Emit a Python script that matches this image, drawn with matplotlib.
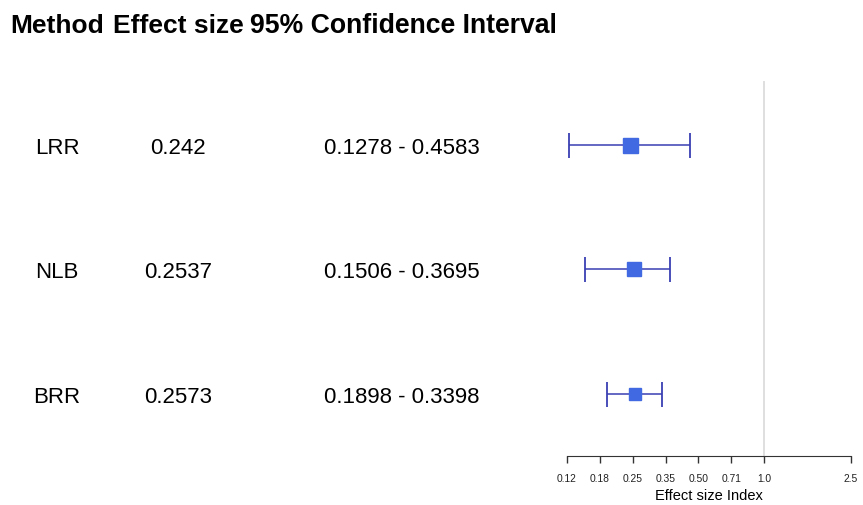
import numpy as np
import matplotlib.pyplot as plt
import matplotlib.transforms as mtransforms

plt.rcParams['font.family'] = ['Liberation Sans', 'DejaVu Sans']

methods = ['LRR', 'NLB', 'BRR']
effect = [0.242, 0.2537, 0.2573]
ci_low = [0.1278, 0.1506, 0.1898]
ci_high = [0.4583, 0.3695, 0.3398]
tick_labels = ['0.12', '0.18', '0.25', '0.35', '0.50', '0.71', '1.0', '2.5']

# tick positions: powers of sqrt(2) from 1/8 up to 1, plus the upper limit
ticks = list(2.0 ** np.arange(-3, 0.01, 0.5)) + [2.5]
box_sizes = [10.8, 9.7, 8.9]

fig = plt.figure(figsize=(8.63, 5.06), dpi=100)
ax = fig.add_axes([567 / 863, 1 - 457 / 506, 284 / 863, 375 / 506])

rows = [3, 2, 1]
ax.set_xscale('log')
ax.set_xlim(0.125, 2.5)
ax.set_ylim(0.502, 3.514)

# reference line at no effect
ax.axvline(1.0, color='#d9d9d9', lw=1.2, zorder=0)

for y, e, lo, hi, bs in zip(rows, effect, ci_low, ci_high, box_sizes):
    ax.errorbar([e], [y], xerr=[[e - lo], [hi - e]], fmt='none',
                ecolor='#3a3fb3', elinewidth=1.1, capsize=9, capthick=1.3)
    ax.plot([e], [y], marker='s', ms=bs, color='#4169e1', mec='#4169e1', zorder=3)

for s in ['top', 'right', 'left']:
    ax.spines[s].set_visible(False)
ax.spines['bottom'].set_color('#333333')
ax.set_yticks([])
ax.set_xticks(ticks)
ax.set_xticklabels(tick_labels, fontsize=7.4, color='#222222')
ax.minorticks_off()
ax.tick_params(axis='x', length=5, width=1, color='#333333', pad=7)
ax.set_xlabel('Effect size Index', fontsize=10.5, labelpad=4)

# table columns, text sits a little below the marker centres
trans = mtransforms.blended_transform_factory(fig.transFigure, ax.transData)
trans = trans + mtransforms.ScaledTranslation(0, -2.5 / 100, fig.dpi_scale_trans)
for y, m, e, lo, hi in zip(rows, methods, effect, ci_low, ci_high):
    ax.text(57 / 863, y, m, transform=trans, ha='center', va='center', fontsize=16)
    ax.text(178 / 863, y, f'{e:g}', transform=trans, ha='center', va='center', fontsize=16)
    ax.text(402 / 863, y, f'{lo:g} - {hi:g}', transform=trans, ha='center', va='center', fontsize=16)

header_y = 1 - 26 / 506
fig.text(10 / 863, header_y, 'Method', fontsize=19, fontweight='bold', va='center')
fig.text(113 / 863, header_y, 'Effect size', fontsize=19, fontweight='bold', va='center')
fig.text(250 / 863, header_y, '95% Confidence Interval', fontsize=19.2, fontweight='bold', va='center')

fig.savefig('out.png', dpi=100)
